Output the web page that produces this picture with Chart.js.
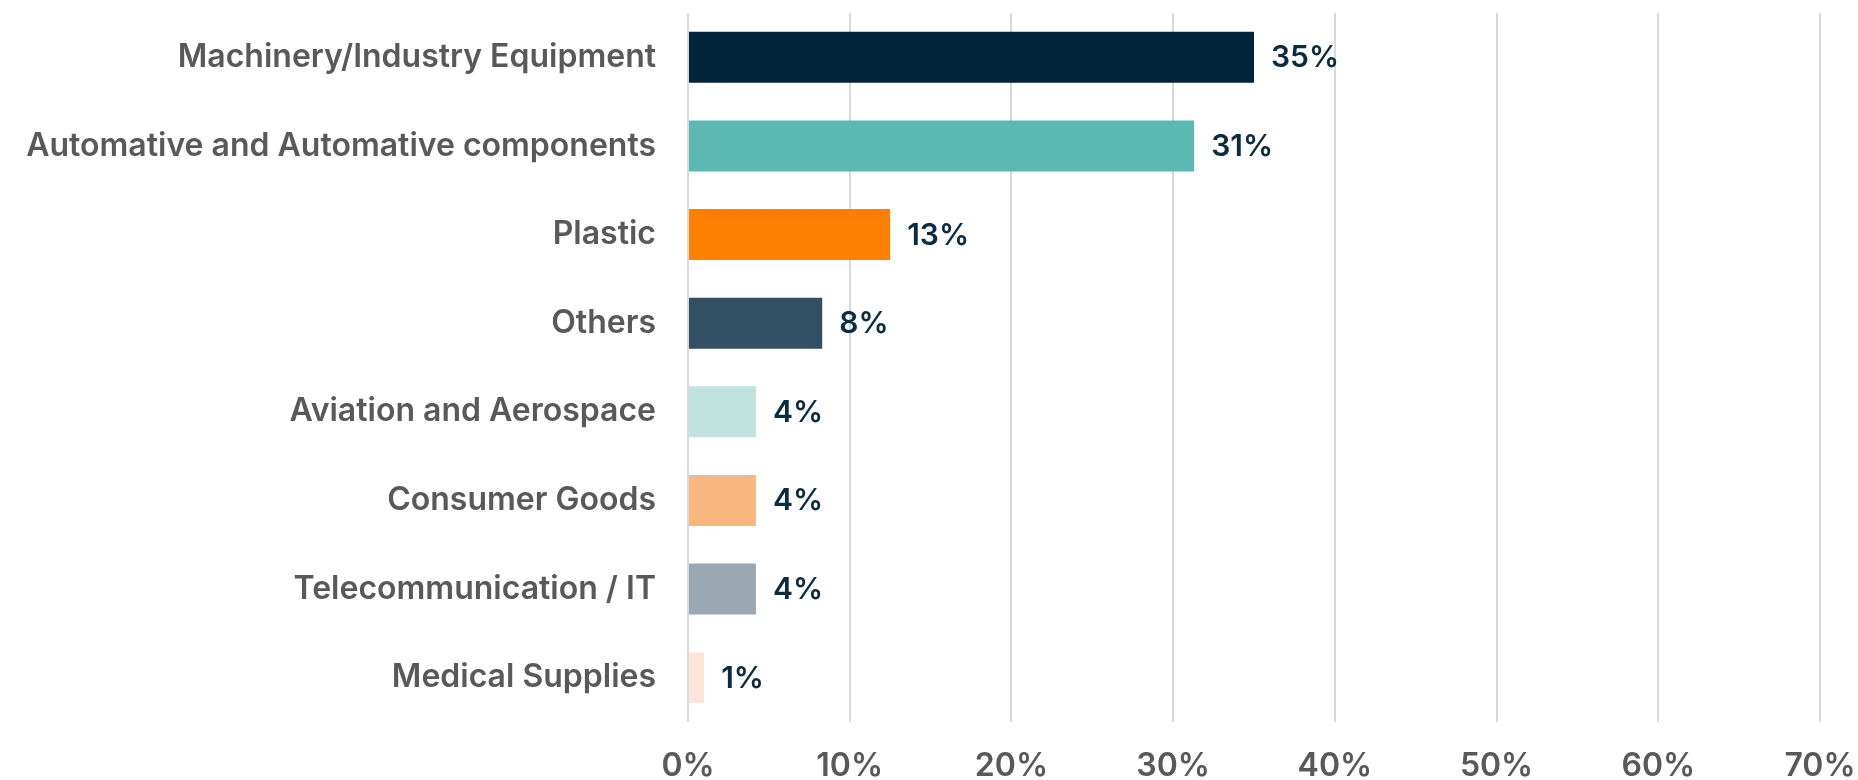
<!DOCTYPE html>
<html><head><meta charset="utf-8">
<script src="https://cdn.jsdelivr.net/npm/chart.js@4.4.1/dist/chart.umd.min.js"></script>
<style>html,body{margin:0;padding:0;background:#fff}#wrap{width:1858px;height:780px;position:relative}</style>
</head>
<body>
<div id="wrap"><canvas id="c"></canvas></div>
<script>
const categories = [
  'Machinery/Industry Equipment',
  'Automative and Automative components',
  'Plastic',
  'Others',
  'Aviation and Aerospace',
  'Consumer Goods',
  'Telecommunication / IT',
  'Medical Supplies'
];
const shares = [35, 31.3, 12.5, 8.3, 4.2, 4.2, 4.2, 1.0];
const shareLabels = ['35%', '31%', '13%', '8%', '4%', '4%', '4%', '1%'];
const barColors = ['#03243b', '#5cb8b2', '#ff8000', '#334f63', '#c0e3e0', '#f8b77e', '#9aa8b4', '#fbe5da'];
const xTicks = [0, 10, 20, 30, 40, 50, 60, 70];

const valueLabels = {
  id: 'valueLabels',
  afterDatasetsDraw(chart) {
    const ctx = chart.ctx;
    const meta = chart.getDatasetMeta(0);
    ctx.save();
    ctx.font = '600 30px "Inter"';
    ctx.fillStyle = '#0b2b40';
    ctx.textAlign = 'left';
    ctx.textBaseline = 'middle';
    meta.data.forEach((bar, i) => {
      ctx.fillText(shareLabels[i], bar.x + 17, bar.y + 1);
    });
    ctx.restore();
  }
};

function zeroPad(scale) {
  scale.paddingTop = 0; scale.paddingBottom = 0;
  scale.paddingLeft = 0; scale.paddingRight = 0;
}

new Chart(document.getElementById('c'), {
  type: 'bar',
  data: {
    labels: categories,
    datasets: [{
      data: shares,
      backgroundColor: barColors,
      borderWidth: 0,
      barPercentage: 0.575,
      categoryPercentage: 1
    }]
  },
  options: {
    indexAxis: 'y',
    responsive: true,
    maintainAspectRatio: false,
    animation: false,
    layout: { padding: { top: 13, right: 38, bottom: 0, left: 0 } },
    plugins: { legend: { display: false }, tooltip: { enabled: false } },
    scales: {
      x: {
        min: 0, max: 70,
        afterBuildTicks(scale) { scale.ticks = xTicks.map(v => ({ value: v })); },
        afterFit(scale) { scale.height = 58; zeroPad(scale); },
        grid: { color: '#d9d9d9', lineWidth: 2, drawTicks: false },
        border: { display: false },
        ticks: {
          padding: 25,
          color: '#595959',
          font: { family: 'Inter', size: 32, weight: '600' },
          callback: v => v + '%'
        }
      },
      y: {
        afterFit(scale) { scale.width = 688; zeroPad(scale); },
        grid: { display: false, drawTicks: false },
        border: { display: false },
        ticks: {
          padding: 32,
          color: '#595959',
          font: { family: 'Inter', size: 32, weight: '600' }
        }
      }
    }
  },
  plugins: [valueLabels]
});
</script>
</body></html>
